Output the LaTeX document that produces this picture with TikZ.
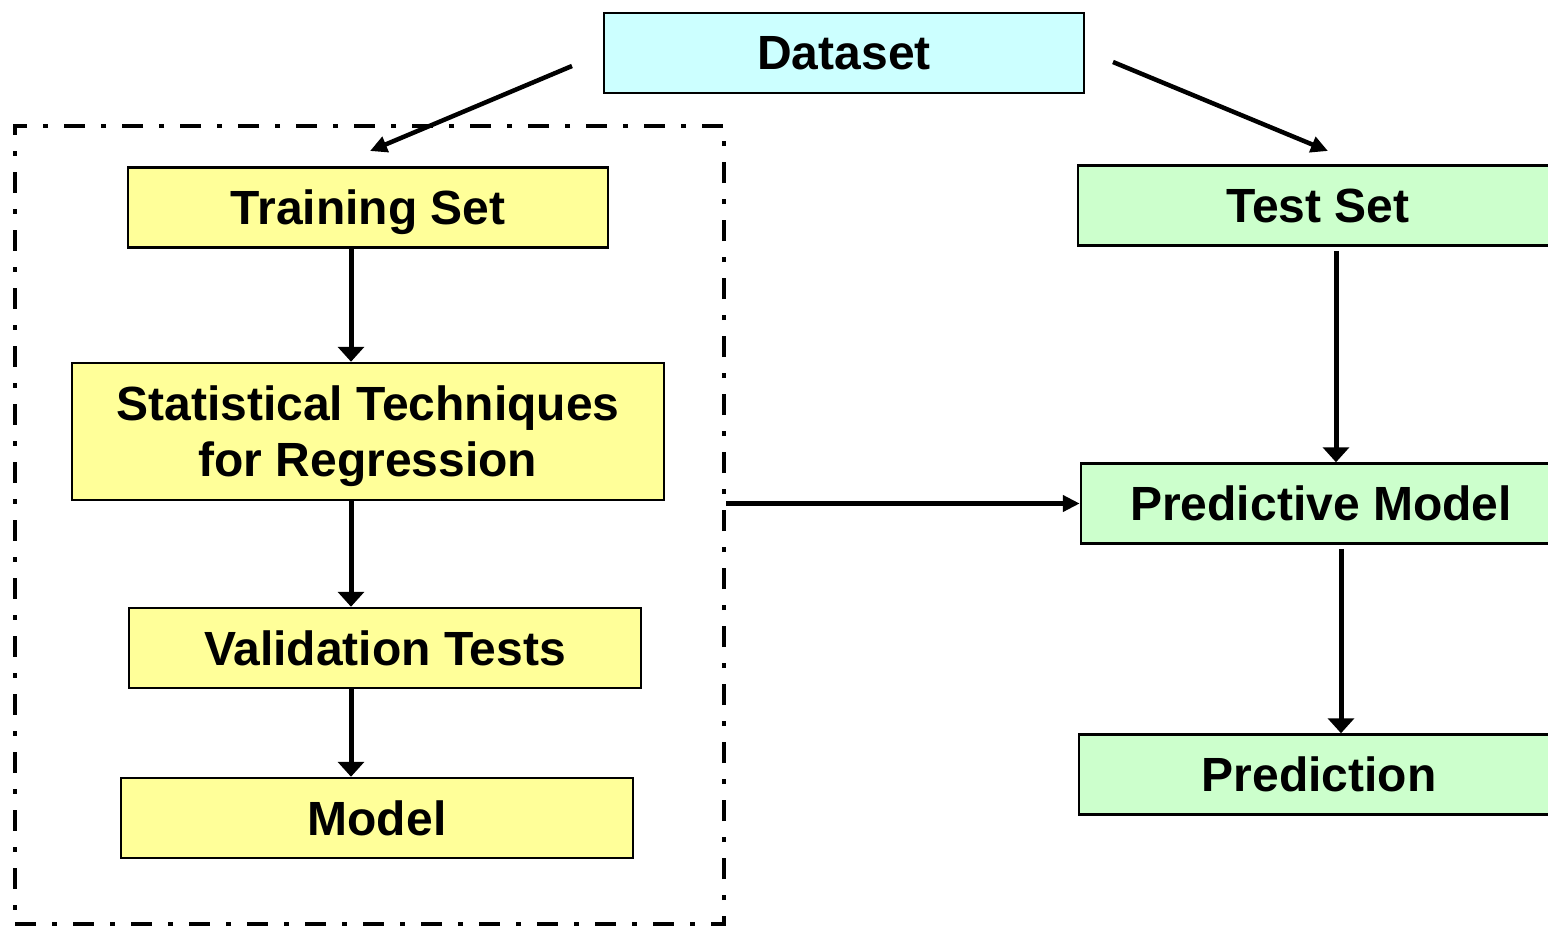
\documentclass[tikz,border=0pt]{standalone}
\usepackage{fontspec}
\setmainfont{Liberation Sans}
\usetikzlibrary{arrows.meta,calc}

\definecolor{trainfill}{RGB}{255,255,153}
\definecolor{testfill}{RGB}{204,255,204}
\definecolor{datafill}{RGB}{204,255,255}

\tikzset{every picture/.style={line width=2pt}}
\tikzset{
  stage/.style={draw, line width=2.5pt, inner sep=0pt, align=center, text depth=0pt,
    font=\fontsize{48}{56}\selectfont\bfseries},
  trainstage/.style={stage, fill=trainfill, minimum height=80pt},
  teststage/.style={stage, fill=testfill, minimum width=480pt, minimum height=80pt},
  flow/.style={line width=5pt, -{Triangle[length=15pt,width=26pt]}},
  feed/.style={line width=4.5pt, -{Triangle[length=17pt,width=16pt]}},
}

\begin{document}
\begin{tikzpicture}[x=1pt,y=1pt,yscale=-1,xscale=1]
		\useasboundingbox (0,0) rectangle (1548,927);
		
		%Shape: Rectangle [dash dot frame round the training side]
		\node [draw, line width=4.5pt, dash pattern=on 21pt off 16pt on 5pt off 16pt,
		  minimum width=709pt, minimum height=798pt, inner sep=0pt] (frame) at (369.5,525) {};
		
		% Text Node
		\node [stage, fill=datafill, minimum width=480pt, minimum height=80pt] (dataset) at (844,53) {Dataset};
		% Text Node
		\node [trainstage, minimum width=480pt] (training) at (368,207.5) {Training Set};
		% Text Node
		\node [trainstage, minimum width=592pt, minimum height=137pt] (stats) at (368,431.5) {Statistical Techniques\\for Regression};
		% Text Node
		\node [trainstage, minimum width=512pt] (validation) at (385,648) {Validation Tests};
		% Text Node
		\node [trainstage, minimum width=512pt] (model) at (377,818) {Model};
		% Text Node
		\node [teststage] (testset) at (1318,205.5) {Test Set};
		% Text Node
		\node [teststage] (predictive) at (1321,503.5) {Predictive Model};
		% Text Node
		\node [teststage] (prediction) at (1319,774.5) {Prediction};
		
		\coordinate (dsleft) at (572,66);
		\coordinate (trainin) at (370,151);
		\coordinate (dsright) at (1113,62);
		\coordinate (testin) at (1328,151);
		\coordinate (spine) at (351,0);
		\coordinate (testspine) at (1336,0);
		\coordinate (predspine) at (1341,0);
		
		%Straight Lines [split of the dataset]
		\draw [feed] (dsleft) -- (trainin);
		\draw [feed] (dsright) -- (testin);
		
		%Straight Lines [training side]
		\draw [flow] (training.south -| spine) -- (stats.north -| spine);
		\draw [flow] (stats.south -| spine) -- (validation.north -| spine);
		\draw [flow] (validation.south -| spine) -- (model.north -| spine);
		
		%Straight Lines [test side]
		\draw [flow, shorten <=4pt] (testset.south -| testspine) -- (predictive.north -| testspine);
		\draw [flow, shorten <=4pt] (predictive.south -| predspine) -- (prediction.north -| predspine);
		
		%Straight Lines [frame to predictive model]
		\draw [feed] (frame.east |- predictive.west) -- (predictive.west);
		
\end{tikzpicture}
\end{document}
